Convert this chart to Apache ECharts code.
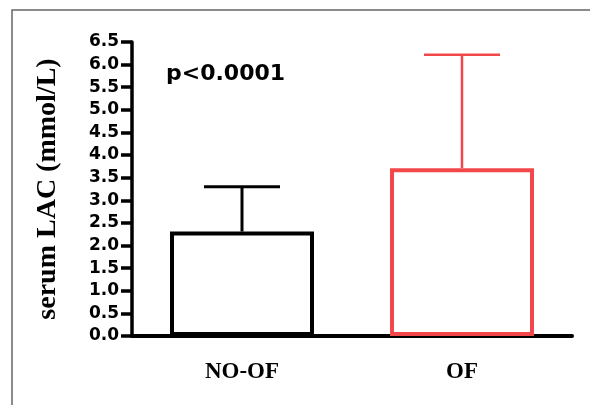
<!DOCTYPE html>
<html>
<head>
<meta charset="utf-8">
<script src="https://cdn.jsdelivr.net/npm/echarts@6/dist/echarts.min.js"></script>
<style>
    html, body { margin: 0; padding: 0; background: #fff; }
    #main { width: 590px; height: 405px; }
</style>
</head>
<body>
<div id="main"></div>
<script>
var groups = ['NO-OF', 'OF'];
var means = [2.31, 3.71];
var sds = [0.99, 2.51];
var colors = ['#000000', '#f2484b'];
var yTicks = [0, 6.5, 0.5]; // min, max, step

var chart = echarts.init(document.getElementById('main'));

// 柱子数据，只画边框
var barData = [];
for (var i = 0; i < groups.length; i++) {
    barData.push({
        value: means[i],
        itemStyle: {color: 'rgba(0,0,0,0)', borderColor: colors[i], borderWidth: 4}
    });
}
// 误差线数据
var errData = [];
for (var j = 0; j < groups.length; j++) {
    errData.push([j, means[j], means[j] + sds[j]]);
}

var option = {
    animation: false,
    grid: {left: 132, right: 18, top: 42, bottom: 69, containLabel: false},
    xAxis: {
        type: 'category',
        data: groups,
        axisLine: {lineStyle: {color: '#000', width: 4}},
        axisTick: {alignWithLabel: true, length: 10, lineStyle: {color: '#000', width: 4}},
        axisLabel: {
            margin: 25,
            color: '#000',
            fontFamily: 'Liberation Serif',
            fontWeight: 'bold',
            fontSize: 23
        },
        splitLine: {show: false}
    },
    yAxis: {
        type: 'value',
        min: yTicks[0],
        max: yTicks[1],
        interval: yTicks[2],
        name: 'serum LAC (mmol/L)',
        nameLocation: 'middle',
        nameGap: 70,
        nameTextStyle: {
            color: '#000',
            fontFamily: 'Liberation Serif',
            fontWeight: 'bold',
            fontSize: 28
        },
        axisLine: {show: true, lineStyle: {color: '#000', width: 3.5}},
        axisTick: {show: true, length: 11, lineStyle: {color: '#000', width: 3.5}},
        axisLabel: {
            margin: 13,
            color: '#000',
            fontFamily: 'DejaVu Sans',
            fontWeight: 'bold',
            fontSize: 17,
            formatter: function (v) { return v.toFixed(1); }
        },
        splitLine: {show: false}
    },
    graphic: [
        {
            type: 'rect',
            shape: {x: 12, y: 10, width: 700, height: 500},
            style: {fill: 'none', stroke: '#666', lineWidth: 1.5},
            silent: true
        },
        {
            type: 'text',
            x: 166,
            y: 74,
            style: {
                text: 'p<0.0001',
                fill: '#000',
                font: 'bold 22px "DejaVu Sans"',
                textVerticalAlign: 'middle'
            }
        }
    ],
    series: [
        {
            type: 'bar',
            barWidth: 144,
            data: barData,
            z: 2
        },
        {
            type: 'custom',
            z: 3,
            data: errData,
            renderItem: function (params, api) {
                var idx = api.value(0);
                var low = api.coord([idx, api.value(1)]);
                var high = api.coord([idx, api.value(2)]);
                var capHalf = 38;
                var c = colors[idx];
                var lw = idx === 0 ? 3 : 2.5;
                return {
                    type: 'group',
                    children: [
                        {
                            type: 'line',
                            shape: {x1: low[0], y1: low[1], x2: high[0], y2: high[1]},
                            style: {stroke: c, lineWidth: lw}
                        },
                        {
                            type: 'line',
                            shape: {x1: high[0] - capHalf, y1: high[1], x2: high[0] + capHalf, y2: high[1]},
                            style: {stroke: c, lineWidth: lw}
                        }
                    ]
                };
            }
        }
    ]
};
chart.setOption(option);
</script>
</body>
</html>
